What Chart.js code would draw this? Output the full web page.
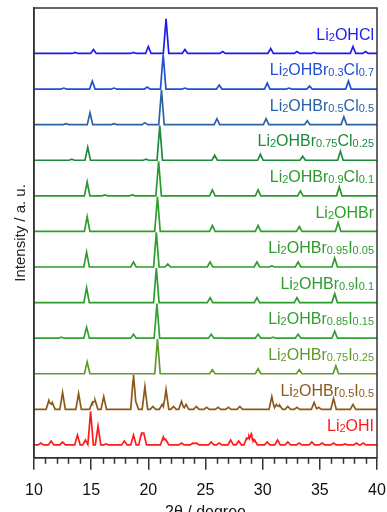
<!DOCTYPE html>
<html>
<head>
<meta charset="utf-8">
<script src="https://cdn.jsdelivr.net/npm/chart.js@4.4.1/dist/chart.umd.min.js"></script>
<style>
  html, body { margin: 0; padding: 0; overflow: hidden; background: #fff; }
</style>
</head>
<body>
<canvas id="xrd" width="387" height="526"></canvas>
<script>
// Peak positions (2theta, degree) and heights (a.u.), top to bottom
const peaksCl = [[13.6, 1], [15.2, 4], [18.7, 1], [20.0, 7], [21.55, 35], [23.2, 4], [26.5, 2], [30.7, 5], [33.0, 2], [34.5, 1], [37.9, 7], [39.0, 2]];
const peaksBr03Cl07 = [[12.6, 1], [15.1, 8], [17.0, 1], [19.9, 2], [21.3, 35], [23.2, 1], [26.2, 4], [30.4, 6], [32.3, 1], [34.1, 3], [37.5, 8]];
const peaksBr05Cl05 = [[12.8, 1], [14.9, 12], [17.0, 1], [19.7, 2], [21.15, 35], [26.0, 6], [30.3, 6], [33.9, 4], [37.1, 8]];
const peaksBr075Cl025 = [[13.3, 1], [14.7, 13], [19.8, 1], [21.0, 35], [25.8, 5], [29.8, 6], [33.5, 4], [36.8, 9]];
const peaksBr09Cl01 = [[14.65, 14], [16.2, 1], [18.6, 1], [20.9, 35], [25.6, 6], [29.6, 6], [33.3, 5], [36.7, 9]];
const peaksBr = [[14.65, 15], [20.8, 35], [25.6, 6], [29.6, 6], [33.2, 5], [36.6, 9]];
const peaksBr095I005 = [[14.6, 15], [18.7, 5], [20.7, 35], [21.7, 3], [25.4, 5], [29.5, 5], [30.8, 1], [33.1, 5], [36.3, 9]];
const peaksBr09I01 = [[14.6, 15], [20.7, 35], [25.4, 5], [29.5, 5], [33.0, 5], [36.3, 9]];
const peaksBr085I015 = [[12.4, 1], [14.6, 11], [18.7, 4], [20.75, 35], [25.5, 4], [29.6, 4], [30.9, 1], [33.1, 4], [36.3, 7]];
const peaksBr075I025 = [[14.65, 12], [20.8, 35], [25.6, 4], [29.6, 5], [33.2, 4], [36.4, 8]];
const peaksBr05I05 = [[11.3, 9], [11.6, 7], [12.5, 17], [13.9, 16], [15.1, 7], [15.35, 9], [16.1, 13], [18.7, 35], [18.9, 8],
  [19.7, 23], [20.4, 3], [21.2, 5], [21.55, 20], [22.2, 3], [22.9, 8], [23.3, 5], [24.2, 3], [25.1, 2], [26.1, 2], [27.0, 2],
  [28.0, 3], [30.8, 13], [31.2, 5], [31.5, 4], [32.2, 3], [33.0, 2], [34.5, 7], [34.9, 2], [36.2, 11], [37.9, 5]];
const peaksI = [[10.6, 2], [11.5, 4], [12.5, 3], [13.8, 10], [14.5, 5], [14.95, 34], [15.6, 19], [16.3, 1], [17.9, 4], [18.7, 10],
  [19.4, 12], [19.6, 12], [21.3, 8], [21.55, 5], [22.9, 2], [23.9, 2], [24.2, 2], [25.5, 3], [26.2, 2], [27.2, 5], [27.9, 4],
  [28.6, 7], [28.8, 8], [29.0, 11], [29.3, 5], [30.4, 3], [31.3, 5], [32.2, 3], [33.2, 2], [34.3, 3], [35.2, 2], [36.2, 2],
  [37.2, 1], [38.2, 2], [38.8, 2]];

// Sample labels: alternating normal text / subscript
const labelParts = [
  ['Li', '2', 'OHCl'],
  ['Li', '2', 'OHBr', '0.3', 'Cl', '0.7'],
  ['Li', '2', 'OHBr', '0.5', 'Cl', '0.5'],
  ['Li', '2', 'OHBr', '0.75', 'Cl', '0.25'],
  ['Li', '2', 'OHBr', '0.9', 'Cl', '0.1'],
  ['Li', '2', 'OHBr'],
  ['Li', '2', 'OHBr', '0.95', 'I', '0.05'],
  ['Li', '2', 'OHBr', '0.9', 'I', '0.1'],
  ['Li', '2', 'OHBr', '0.85', 'I', '0.15'],
  ['Li', '2', 'OHBr', '0.75', 'I', '0.25'],
  ['Li', '2', 'OHBr', '0.5', 'I', '0.5'],
  ['Li', '2', 'OHI']
];
const peakSets = [peaksCl, peaksBr03Cl07, peaksBr05Cl05, peaksBr075Cl025, peaksBr09Cl01, peaksBr,
  peaksBr095I005, peaksBr09I01, peaksBr085I015, peaksBr075I025, peaksBr05I05, peaksI];
const xTicks = [10, 15, 20, 25, 30, 35, 40];

const traceColors = ['#1c1cf2', '#2150d2', '#2a62a6', '#1e8a3e', '#2a9a2e', '#2ea02e',
  '#2c9c2c', '#2c9c2c', '#33a033', '#5e9a2a', '#8a5a18', '#ff1a1a'];

const HALF_WIDTH = 0.24;  // peak half-width at base, degree
const SPACING = 36;       // vertical offset between patterns
const FIRST_BASE = 13;    // baseline of bottom pattern
const FONT = "'Liberation Sans', Arial, sans-serif";

function peakLine(peaks, offset) {
  const xs = [10, 40];
  peaks.forEach(p => xs.push(p[0] - HALF_WIDTH, p[0], p[0] + HALF_WIDTH));
  xs.sort((a, b) => a - b);
  return xs.filter(x => x >= 10 && x <= 40).map(x => {
    let y = 0;
    peaks.forEach(p => {
      const d = Math.abs(x - p[0]);
      if (d < HALF_WIDTH) y = Math.max(y, p[1] * (1 - d / HALF_WIDTH));
    });
    return { x: x, y: y + offset };
  });
}

const n = peakSets.length;
const baseOf = i => FIRST_BASE + (n - 1 - i) * SPACING;

const datasets = peakSets.map((peaks, i) => ({
  data: peakLine(peaks, baseOf(i)),
  borderColor: traceColors[i],
  borderWidth: 1.7,
  pointRadius: 0,
  tension: 0,
  fill: false
}));

// minor ticks, full frame and sample labels
const decorPlugin = {
  id: 'decor',
  afterDraw(chart) {
    const { ctx, chartArea: a, scales: { x, y } } = chart;
    ctx.save();
    ctx.strokeStyle = '#333';
    ctx.lineWidth = 1.5;
    for (let v = 11; v < 40; v++) {
      if (v % 5 === 0) continue;
      const px = Math.round(x.getPixelForValue(v)) + 0.5;
      ctx.beginPath();
      ctx.moveTo(px, a.bottom);
      ctx.lineTo(px, a.bottom + 6);
      ctx.stroke();
    }
    ctx.strokeRect(a.left, a.top, a.right - a.left, a.bottom - a.top);

    ctx.textBaseline = 'alphabetic';
    ctx.textAlign = 'left';
    labelParts.forEach((parts, i) => {
      const fonts = parts.map((_, k) => (k % 2 === 0 ? '16px ' : '11px ') + FONT);
      let total = 0;
      parts.forEach((t, k) => { ctx.font = fonts[k]; total += ctx.measureText(t).width; });
      let cx = a.right - 3 - total;
      const cy = y.getPixelForValue(baseOf(i) + 14);
      ctx.fillStyle = traceColors[i];
      parts.forEach((t, k) => {
        ctx.font = fonts[k];
        ctx.fillText(t, cx, cy + (k % 2 === 0 ? 0 : 1));
        cx += ctx.measureText(t).width;
      });
    });
    ctx.restore();
  }
};

new Chart(document.getElementById('xrd'), {
  type: 'line',
  data: { datasets: datasets },
  options: {
    responsive: false,
    animation: false,
    layout: { padding: { left: 8, right: 10, top: 8, bottom: 0 } },
    plugins: { legend: { display: false }, tooltip: { enabled: false } },
    scales: {
      x: {
        type: 'linear',
        min: 10,
        max: 40,
        afterBuildTicks: scale => { scale.ticks = xTicks.map(v => ({ value: v })); },
        afterFit: scale => { scale.paddingLeft = 0; scale.paddingRight = 0; },
        ticks: { color: '#111', padding: 5, font: { size: 16, family: FONT, lineHeight: 2 } },
        grid: { drawOnChartArea: false, tickLength: 12, color: '#333', lineWidth: 1.5 },
        border: { color: '#333', width: 1.5 },
        title: { display: true, text: '2θ / degree', color: '#111', padding: { top: -9, bottom: 4 }, font: { size: 16, family: FONT } }
      },
      y: {
        min: 0,
        max: 455,
        afterFit: scale => { scale.width = 26; },
        ticks: { display: false },
        grid: { display: false },
        border: { color: '#333', width: 1.5 },
        title: { display: true, text: 'Intensity / a. u.', color: '#222', font: { size: 15, family: FONT } }
      }
    }
  },
  plugins: [decorPlugin]
});
</script>
</body>
</html>
